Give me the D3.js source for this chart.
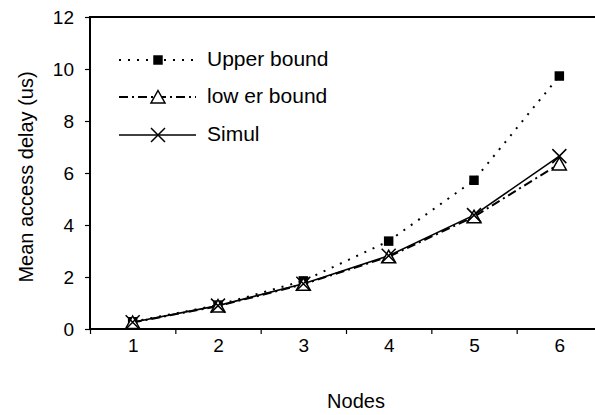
<!DOCTYPE html>
<html>
<head>
<meta charset="utf-8">
<script src="https://cdn.jsdelivr.net/npm/d3@7"></script>
<style>
  body { margin: 0; background: #fff; }
  text { font-family: "Liberation Sans", Arial, sans-serif; fill: #000; }
</style>
</head>
<body>
<div class="grafico"></div>
<script>
// dados
var nodes = [1, 2, 3, 4, 5, 6];
var upperBound = [0.28, 0.92, 1.85, 3.38, 5.72, 9.73];
var lowerBound = [0.25, 0.88, 1.72, 2.78, 4.32, 6.35];
var simul = [0.26, 0.90, 1.74, 2.82, 4.38, 6.65];
var yTicks = [0, 2, 4, 6, 8, 10, 12];
var legendLabels = ["Upper bound", "low er bound", "Simul"];

var width = 595;
var height = 415;

var svg = d3.select(".grafico")
  .append("svg")
    .attr("width", width)
    .attr("height", height);

// escalas
var x = d3.scaleLinear()
  .domain([0.5, 6.5])
  .range([90, 602]);

var y = d3.scaleLinear()
  .domain([0, 12])
  .range([329, 17]);

// borda superior
svg.append("line")
  .attr("x1", 89).attr("x2", width)
  .attr("y1", y(12)).attr("y2", y(12))
  .attr("stroke", "#000").attr("stroke-width", 2);

// eixo y
var yAxis = d3.axisLeft(y)
  .tickValues(yTicks)
  .tickSize(5)
  .tickPadding(11);

var gy = svg.append("g")
  .attr("transform", "translate(90,0)")
  .call(yAxis);
gy.select(".domain").attr("stroke-width", 2).attr("d", "M0," + y(12) + "V" + y(0));
gy.selectAll(".tick line").attr("stroke-width", 1.2);
gy.selectAll("text").style("font-size", "19px").attr("fill", "#000");

// eixo x - marcas entre categorias
var xTickAxis = d3.axisBottom(x)
  .tickValues(d3.range(0.5, 7, 1))
  .tickSize(5)
  .tickFormat("");

var gx = svg.append("g")
  .attr("transform", "translate(0," + y(0) + ")")
  .call(xTickAxis);
gx.select(".domain").attr("stroke-width", 2).attr("d", "M89,0H" + width);
gx.selectAll(".tick line").attr("stroke-width", 1.2);

var xLabelAxis = d3.axisBottom(x)
  .tickValues(nodes)
  .tickSize(0)
  .tickPadding(10)
  .tickFormat(d3.format("d"));

var gxl = svg.append("g")
  .attr("transform", "translate(0," + y(0) + ")")
  .call(xLabelAxis);
gxl.select(".domain").remove();
gxl.selectAll("text").style("font-size", "19px").attr("fill", "#000");

// titulos dos eixos
svg.append("text")
  .attr("x", 356).attr("y", 408)
  .attr("text-anchor", "middle")
  .style("font-size", "20px")
  .text("Nodes");

svg.append("text")
  .attr("transform", "translate(33,177) rotate(-90)")
  .attr("text-anchor", "middle")
  .style("font-size", "20px")
  .text("Mean access delay (us)");

// series
var series = [
  { name: legendLabels[0], values: upperBound, dash: "2,7", marker: "square" },
  { name: legendLabels[1], values: lowerBound, dash: "9,4,2,4", marker: "triangle" },
  { name: legendLabels[2], values: simul, dash: null, marker: "cross" }
];

var line = d3.line()
  .x(function(d, i){ return x(nodes[i]); })
  .y(function(d){ return y(d); });

function drawMarker(g, type, cx, cy){
  if(type == "square"){
    g.append("path")
      .attr("d", d3.symbol().type(d3.symbolSquare).size(90)())
      .attr("transform", "translate(" + cx + "," + cy + ")")
      .attr("fill", "#000");
  } else if(type == "triangle"){
    g.append("path")
      .attr("d", "M0,-6.5L7,6L-7,6Z")
      .attr("transform", "translate(" + cx + "," + cy + ")")
      .attr("fill", "#fff").attr("stroke", "#000").attr("stroke-width", 1.5);
  } else {
    g.append("path")
      .attr("d", "M-7,-7L7,7M-7,7L7,-7")
      .attr("transform", "translate(" + cx + "," + cy + ")")
      .attr("fill", "none").attr("stroke", "#000").attr("stroke-width", 1.5);
  }
}

series.forEach(function(s){
  svg.append("path")
    .datum(s.values)
    .attr("d", line)
    .attr("fill", "none")
    .attr("stroke", "#000")
    .attr("stroke-width", s.dash ? 2 : 1.6)
    .attr("stroke-dasharray", s.dash);
});

series.forEach(function(s){
  var g = svg.append("g");
  s.values.forEach(function(v, i){
    drawMarker(g, s.marker, x(nodes[i]), y(v));
  });
});

// legenda
var legendY = [60, 97, 135];
series.forEach(function(s, i){
  var g = svg.append("g");
  g.append("line")
    .attr("x1", 119).attr("x2", 196)
    .attr("y1", legendY[i]).attr("y2", legendY[i])
    .attr("stroke", "#000")
    .attr("stroke-width", s.dash ? 2 : 1.6)
    .attr("stroke-dasharray", s.dash);
  drawMarker(g, s.marker, 158, legendY[i]);
  g.append("text")
    .attr("x", 207).attr("y", legendY[i] + 6)
    .style("font-size", "21px")
    .text(s.name);
});
</script>
</body>
</html>
